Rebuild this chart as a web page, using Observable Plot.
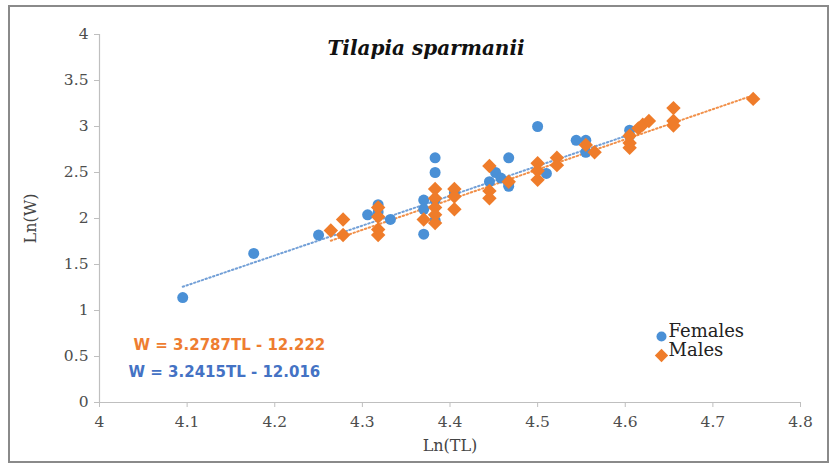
<!DOCTYPE html>
<html>
<head>
<meta charset="utf-8">
<script src="https://cdn.jsdelivr.net/npm/d3@7"></script>
<script src="https://cdn.jsdelivr.net/npm/@observablehq/plot@0.6"></script>
<style>
  html, body { margin: 0; padding: 0; background: #fff; }
  #wrap { position: relative; width: 831px; height: 466px; overflow: hidden; }
  #border { position: absolute; left: 8px; top: 5px; width: 821px; height: 458px;
            box-sizing: border-box; border: 2px solid #8a8a8a; pointer-events: none; }
</style>
</head>
<body>
<div id="wrap"><div id="border"></div></div>
<script>
// ---- data ----
const title = "Tilapia sparmanii";
const xLabel = "Ln(TL)";
const yLabel = "Ln(W)";
const seriesNames = ["Females", "Males"];

const femalesLnTL = [4.095, 4.176, 4.25, 4.306, 4.318, 4.318, 4.332, 4.37, 4.37, 4.37,
  4.383, 4.383, 4.383, 4.383, 4.405, 4.445, 4.452, 4.458, 4.467, 4.467, 4.467,
  4.5, 4.51, 4.544, 4.555, 4.555, 4.605, 4.605];
const femalesLnW = [1.14, 1.62, 1.82, 2.04, 2.15, 2.07, 1.99, 2.2, 2.1, 1.83,
  2.66, 2.5, 2.2, 1.98, 2.28, 2.4, 2.5, 2.44, 2.66, 2.38, 2.35,
  3.0, 2.49, 2.85, 2.85, 2.72, 2.96, 2.9];

const malesLnTL = [4.264, 4.278, 4.278, 4.318, 4.318, 4.318, 4.318, 4.37,
  4.383, 4.383, 4.383, 4.383, 4.383, 4.405, 4.405, 4.405, 4.445, 4.445, 4.445, 4.467,
  4.5, 4.5, 4.5, 4.522, 4.522, 4.555, 4.565, 4.605, 4.605, 4.605,
  4.615, 4.62, 4.627, 4.655, 4.655, 4.655, 4.746];
const malesLnW = [1.87, 1.99, 1.82, 2.12, 2.02, 1.88, 1.82, 1.99,
  2.32, 2.22, 2.12, 2.04, 1.95, 2.32, 2.24, 2.1, 2.57, 2.3, 2.22, 2.4,
  2.6, 2.52, 2.42, 2.66, 2.58, 2.8, 2.72, 2.9, 2.82, 2.77,
  2.98, 3.02, 3.06, 3.2, 3.06, 3.01, 3.3];

// regression coefficients (slope, intercept) as printed on the chart
const femalesFit = [3.2415, -12.016];
const malesFit = [3.2787, -12.222];
const femalesEquation = "W = 3.2415TL - 12.016";
const malesEquation = "W = 3.2787TL - 12.222";

const xTicks = [4, 4.1, 4.2, 4.3, 4.4, 4.5, 4.6, 4.7, 4.8];
const xTickLabels = ["4", "4.1", "4.2", "4.3", "4.4", "4.5", "4.6", "4.7", "4.8"];
const yTicks = [0, 0.5, 1, 1.5, 2, 2.5, 3, 3.5, 4];
const yTickLabels = ["0", "0.5", "1", "1.5", "2", "2.5", "3", "3.5", "4"];

// ---- build ----
const blue = "#4a90d6";
const orange = "#ef7c2a";

const females = femalesLnTL.map((x, i) => ({x, y: femalesLnW[i]}));
const males = malesLnTL.map((x, i) => ({x, y: malesLnW[i]}));
const fitLine = (xs, [m, b]) => d3.extent(xs).map(x => ({x, y: m * x + b}));

const serif = "DejaVu Serif";
const chart = Plot.plot({
  width: 831,
  height: 466,
  marginLeft: 99,
  marginRight: 31,
  marginTop: 34,
  marginBottom: 64,
  style: {background: "transparent", fontFamily: serif},
  x: {domain: [4, 4.8]},
  y: {domain: [0, 4]},
  marks: [
    Plot.ruleY([0], {stroke: "#bfbfbf", strokeWidth: 1.2}),
    Plot.ruleX([4], {stroke: "#bfbfbf", strokeWidth: 1.2}),
    Plot.axisX({ticks: xTicks, tickFormat: (d, i) => xTickLabels[i], tickSize: 5, tickPadding: 8,
      stroke: "#bfbfbf", fill: "#4d4d4d", fontSize: 15.5, label: null}),
    Plot.axisY({ticks: yTicks, tickFormat: (d, i) => yTickLabels[i], tickSize: 5, tickPadding: 6,
      stroke: "#bfbfbf", fill: "#4d4d4d", fontSize: 15.5, label: null}),
    Plot.line(fitLine(femalesLnTL, femalesFit), {x: "x", y: "y", stroke: "#5b8fd0",
      strokeWidth: 2, strokeDasharray: "1.5,2.5", strokeOpacity: 0.85}),
    Plot.line(fitLine(malesLnTL, malesFit), {x: "x", y: "y", stroke: orange,
      strokeWidth: 2, strokeDasharray: "1.5,2.5", strokeOpacity: 0.85}),
    Plot.dot(females, {x: "x", y: "y", r: 5.5, fill: blue, stroke: "none"}),
    Plot.dot(males, {x: "x", y: "y", r: 6.5, symbol: "diamond2", fill: orange, stroke: "none"}),
    // title
    Plot.text([title], {frameAnchor: "top", dx: -24, dy: 6, text: d => d, fontSize: 20,
      fontWeight: "bold", fontStyle: "italic", fill: "#111"}),
    // axis titles
    Plot.text([xLabel], {frameAnchor: "bottom", dy: 48, text: d => d, fontSize: 16, fill: "#444"}),
    Plot.text([yLabel], {frameAnchor: "left", dx: -69, rotate: -90, text: d => d, fontSize: 16,
      fill: "#444", textAnchor: "middle"}),
    // equations
    Plot.text([malesEquation], {frameAnchor: "bottom-left", dx: 34, dy: -53, text: d => d,
      textAnchor: "start", fontSize: 15, fontWeight: "bold", fontFamily: "DejaVu Sans", fill: "#ee7d31"}),
    Plot.text([femalesEquation], {frameAnchor: "bottom-left", dx: 29, dy: -26, text: d => d,
      textAnchor: "start", fontSize: 15, fontWeight: "bold", fontFamily: "DejaVu Sans", fill: "#4472c4"}),
    // legend
    Plot.dot([seriesNames[0]], {frameAnchor: "bottom-right", dx: -139, dy: -66, r: 5, fill: blue, stroke: "none"}),
    Plot.dot([seriesNames[1]], {frameAnchor: "bottom-right", dx: -139, dy: -47, r: 6, symbol: "diamond2", fill: orange, stroke: "none"}),
    Plot.text([seriesNames[0]], {frameAnchor: "bottom-right", dx: -132, dy: -66, text: d => d,
      textAnchor: "start", fontSize: 18, fill: "#222"}),
    Plot.text([seriesNames[1]], {frameAnchor: "bottom-right", dx: -132, dy: -47, text: d => d,
      textAnchor: "start", fontSize: 18, fill: "#222"})
  ]
});
document.getElementById("wrap").prepend(chart);
</script>
</body>
</html>
